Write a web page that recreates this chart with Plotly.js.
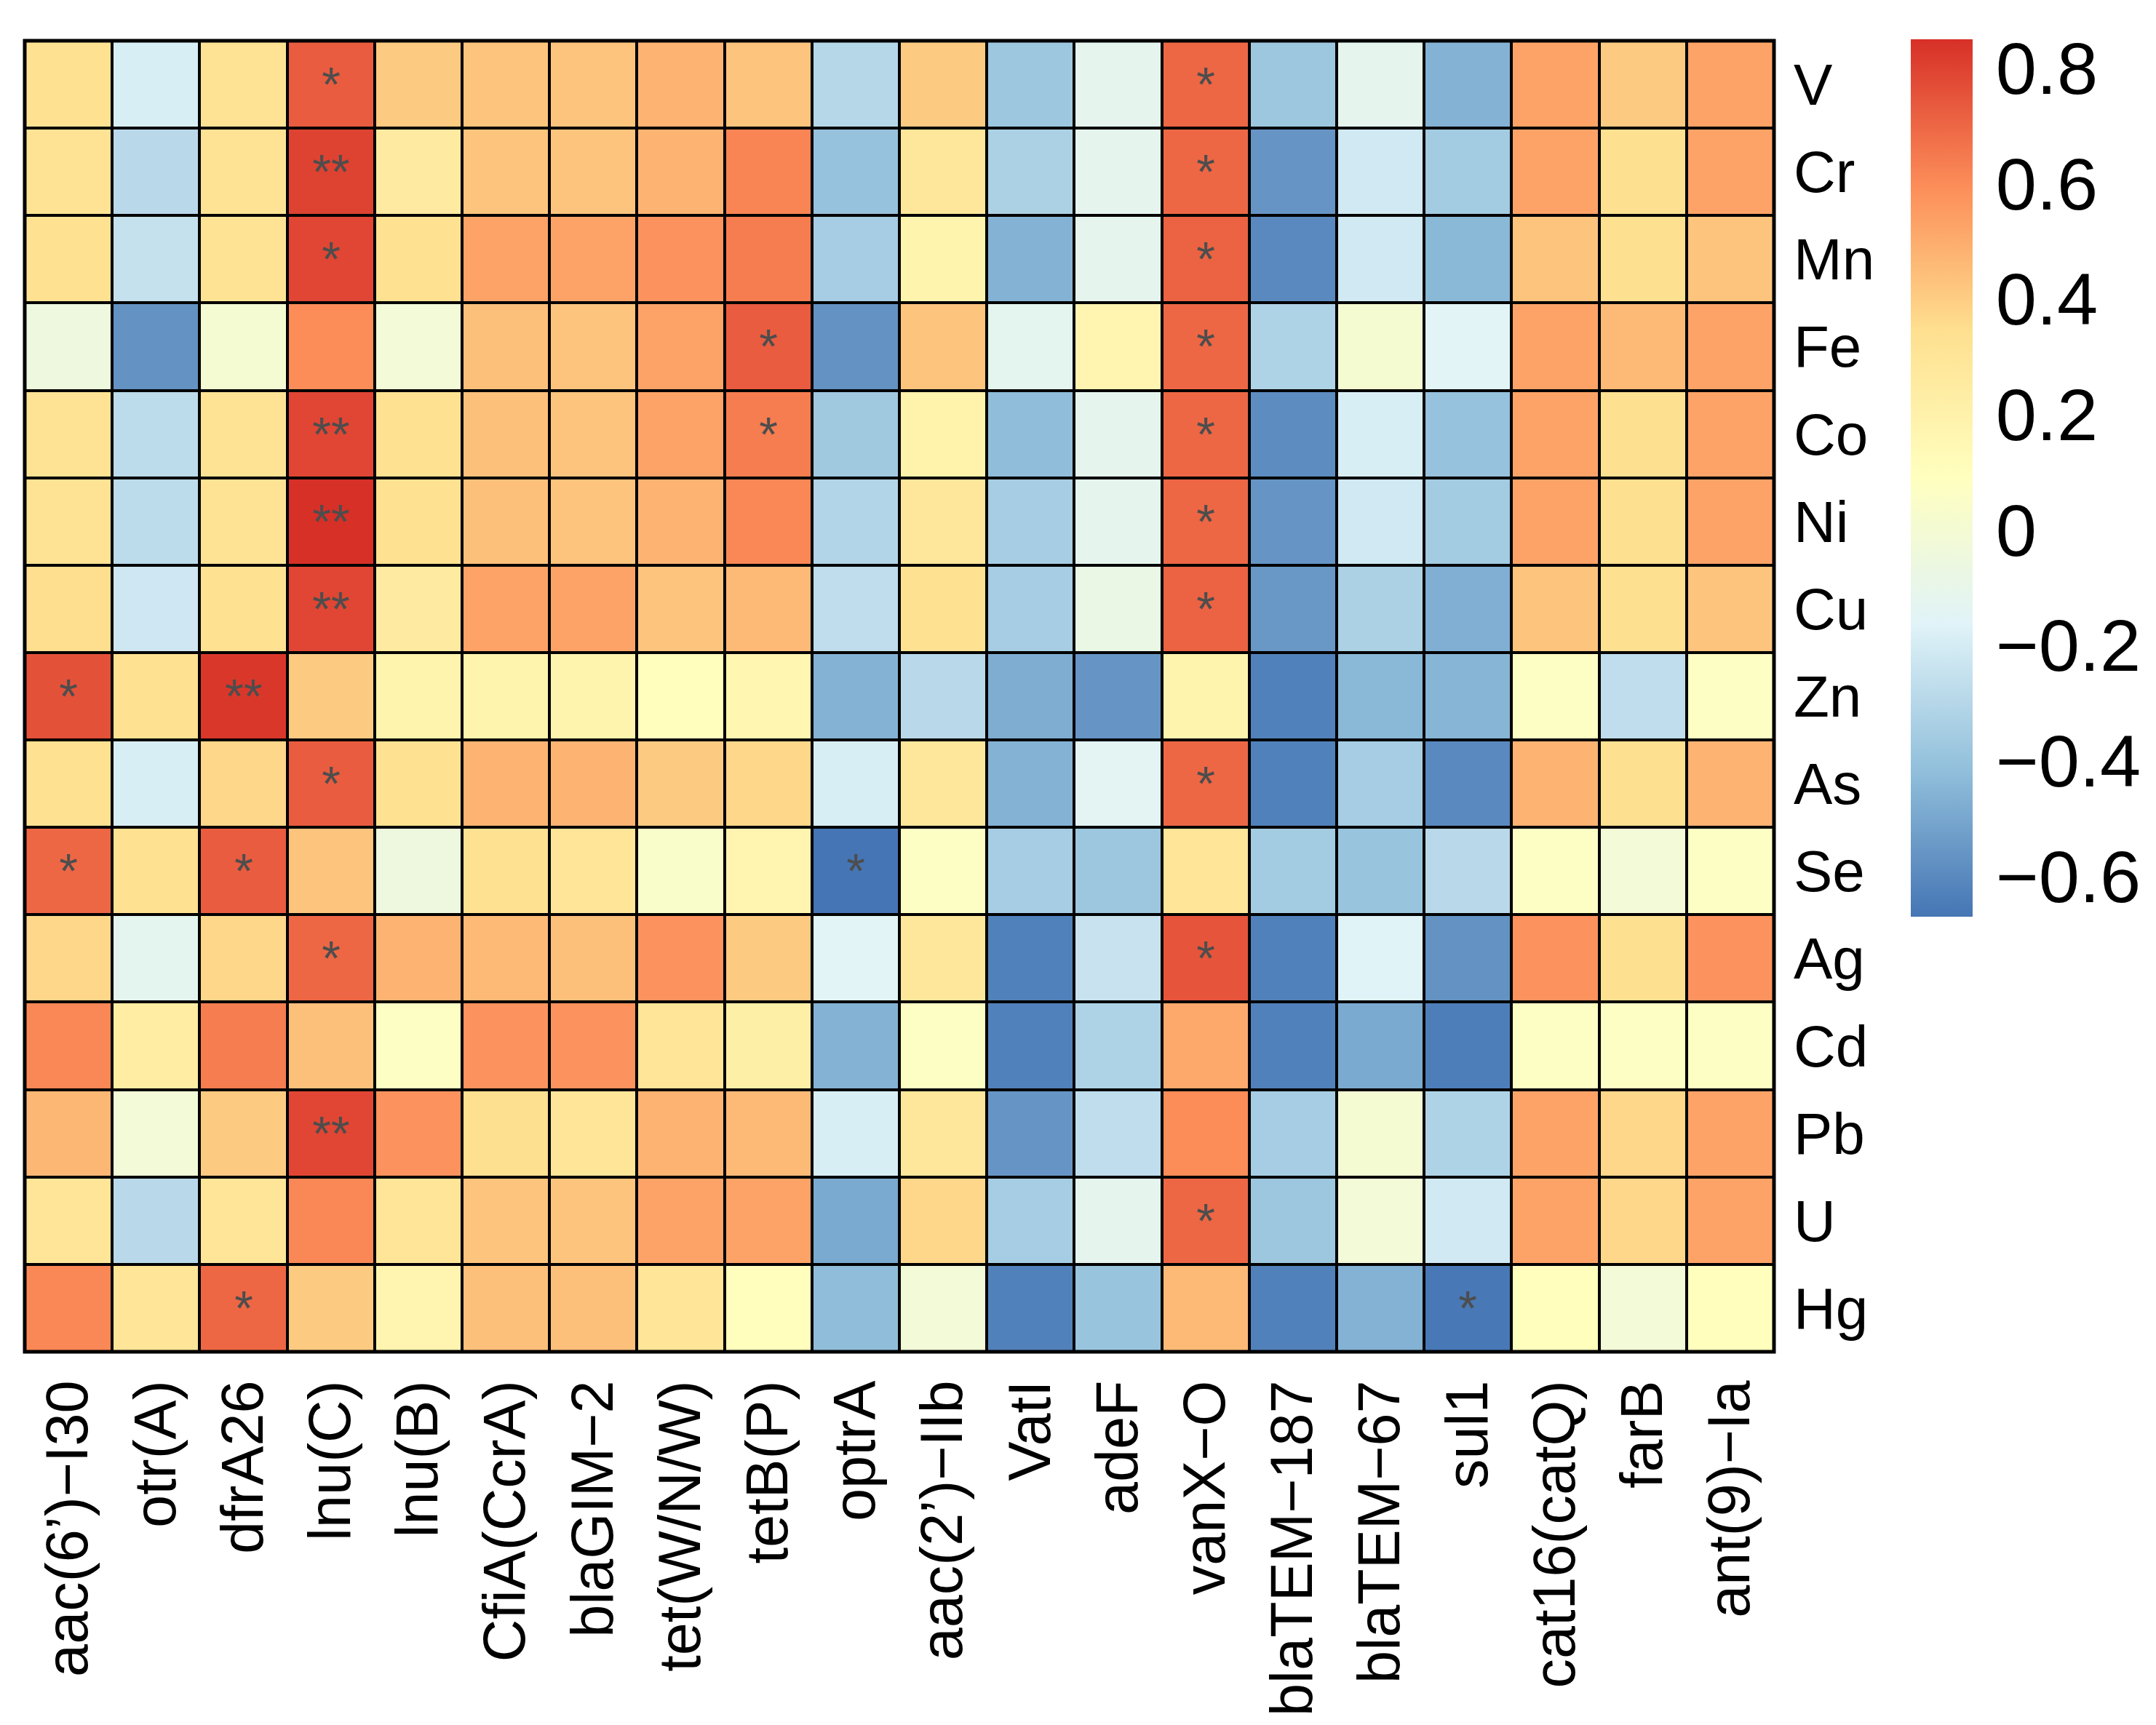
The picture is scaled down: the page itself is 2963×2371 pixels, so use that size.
<!DOCTYPE html>
<html>
<head>
<meta charset="utf-8">
<script src="https://cdn.plot.ly/plotly-3.0.1.min.js"></script>
<style>html,body{margin:0;padding:0;background:#fff;}#chart{width:2963px;height:2371px;}</style>
</head>
<body>
<div id="chart"></div>
<script>
const genes = ["aac(6\u2019)\u2212I30","otr(A)","dfrA26","lnu(C)","lnu(B)","CfiA(CcrA)","blaGIM\u22122","tet(W/N/W)","tetB(P)","optrA","aac(2\u2019)\u2212IIb","VatI","adeF","vanX\u2212O","blaTEM\u2212187","blaTEM\u221267","sul1","cat16(catQ)","farB","ant(9)\u2212Ia"];
const metals = ["V","Cr","Mn","Fe","Co","Ni","Cu","Zn","As","Se","Ag","Cd","Pb","U","Hg"];

const rowV  = [0.33,-0.19,0.32,0.73,0.41,0.43,0.43,0.48,0.43,-0.30,0.41,-0.38,-0.12,0.70,-0.38,-0.12,-0.46,0.53,0.41,0.53];
const rowCr = [0.32,-0.29,0.32,0.80,0.25,0.43,0.43,0.48,0.62,-0.40,0.29,-0.33,-0.12,0.70,-0.56,-0.21,-0.36,0.53,0.34,0.53];
const rowMn = [0.33,-0.25,0.32,0.79,0.33,0.53,0.53,0.58,0.64,-0.35,0.18,-0.46,-0.12,0.71,-0.60,-0.21,-0.44,0.43,0.34,0.43];
const rowFe = [-0.05,-0.57,0.00,0.60,-0.02,0.44,0.43,0.53,0.73,-0.57,0.43,-0.13,0.17,0.70,-0.32,0.01,-0.15,0.53,0.46,0.53];
const rowCo = [0.32,-0.28,0.32,0.79,0.33,0.44,0.43,0.53,0.64,-0.37,0.20,-0.42,-0.12,0.70,-0.59,-0.19,-0.40,0.53,0.34,0.53];
const rowNi = [0.32,-0.28,0.32,0.85,0.33,0.44,0.43,0.48,0.61,-0.31,0.29,-0.35,-0.12,0.70,-0.56,-0.21,-0.36,0.53,0.34,0.53];
const rowCu = [0.35,-0.22,0.33,0.79,0.25,0.53,0.53,0.43,0.46,-0.27,0.33,-0.35,-0.08,0.71,-0.55,-0.33,-0.47,0.43,0.34,0.43];
const rowZn = [0.76,0.33,0.83,0.41,0.18,0.18,0.18,0.10,0.16,-0.46,-0.29,-0.48,-0.56,0.18,-0.63,-0.44,-0.45,0.07,-0.27,0.07];
const rowAs = [0.33,-0.19,0.37,0.73,0.33,0.48,0.48,0.41,0.37,-0.19,0.29,-0.46,-0.14,0.70,-0.63,-0.35,-0.60,0.48,0.34,0.48];
const rowSe = [0.70,0.33,0.73,0.43,-0.05,0.33,0.30,0.04,0.17,-0.67,0.07,-0.35,-0.38,0.30,-0.36,-0.39,-0.29,0.07,-0.02,0.07];
const rowAg = [0.37,-0.13,0.37,0.70,0.48,0.46,0.44,0.58,0.41,-0.15,0.29,-0.63,-0.24,0.75,-0.63,-0.16,-0.57,0.58,0.34,0.58];
const rowCd = [0.61,0.24,0.64,0.44,0.07,0.58,0.58,0.30,0.22,-0.46,0.07,-0.63,-0.32,0.51,-0.63,-0.49,-0.64,0.07,0.07,0.07];
const rowPb = [0.47,-0.02,0.41,0.79,0.58,0.34,0.30,0.48,0.46,-0.19,0.29,-0.56,-0.27,0.60,-0.35,0.00,-0.32,0.53,0.37,0.53];
const rowU  = [0.30,-0.29,0.30,0.61,0.30,0.43,0.43,0.53,0.53,-0.49,0.37,-0.35,-0.12,0.70,-0.38,-0.02,-0.21,0.53,0.37,0.53];
const rowHg = [0.61,0.30,0.70,0.41,0.17,0.44,0.44,0.30,0.10,-0.42,-0.02,-0.63,-0.39,0.46,-0.63,-0.46,-0.66,0.10,-0.02,0.10];

// significance marks: [metal, gene index, mark]
const sigMarks = [
  ["V",3,"*"],["V",13,"*"],
  ["Cr",3,"**"],["Cr",13,"*"],
  ["Mn",3,"*"],["Mn",13,"*"],
  ["Fe",8,"*"],["Fe",13,"*"],
  ["Co",3,"**"],["Co",8,"*"],["Co",13,"*"],
  ["Ni",3,"**"],["Ni",13,"*"],
  ["Cu",3,"**"],["Cu",13,"*"],
  ["Zn",0,"*"],["Zn",2,"**"],
  ["As",3,"*"],["As",13,"*"],
  ["Se",0,"*"],["Se",2,"*"],["Se",9,"*"],
  ["Ag",3,"*"],["Ag",13,"*"],
  ["Pb",3,"**"],
  ["U",13,"*"],
  ["Hg",2,"*"],["Hg",16,"*"]
];

const cbTicks = [-0.6,-0.4,-0.2,0,0.2,0.4,0.6,0.8];
const cbTickText = ["\u22120.6","\u22120.4","\u22120.2","0","0.2","0.4","0.6","0.8"];

const z = [rowV,rowCr,rowMn,rowFe,rowCo,rowNi,rowCu,rowZn,rowAs,rowSe,rowAg,rowCd,rowPb,rowU,rowHg];
const text = metals.map(() => genes.map(() => ""));
sigMarks.forEach(([m, gi, s]) => { text[metals.indexOf(m)][gi] = s; });

const colorscale = [
  [0, "#4575B4"], [1/6, "#91BFDB"], [2/6, "#E0F3F8"], [3/6, "#FFFFBF"],
  [4/6, "#FEE090"], [5/6, "#FC8D59"], [1, "#D73027"]
];

const W = 2963, H = 2371;
const L = 34, R = 2438, T = 56, B = 1858;

const trace = {
  type: "heatmap",
  x: genes,
  y: metals,
  z: z,
  text: text,
  texttemplate: "%{text}",
  textfont: {family: "Liberation Sans, Arial, sans-serif", size: 66, color: "#4D4D4D"},
  colorscale: colorscale,
  zmin: -0.67,
  zmax: 0.85,
  xgap: 4,
  ygap: 4,
  hoverinfo: "skip",
  colorbar: {
    x: (2626 - L) / (R - L),
    xanchor: "left",
    xpad: 0,
    y: (B - 54) / (B - T),
    yanchor: "top",
    ypad: 0,
    len: 1206,
    lenmode: "pixels",
    thickness: 85,
    thicknessmode: "pixels",
    outlinewidth: 0,
    tickvals: cbTicks,
    ticktext: cbTickText,
    ticks: "outside",
    ticklen: 12,
    tickcolor: "rgba(0,0,0,0)",
    tickfont: {family: "Liberation Sans, Arial, sans-serif", size: 101, color: "#000"}
  }
};

const layout = {
  width: W,
  height: H,
  margin: {l: L, r: W - R, t: T, b: H - B, pad: 0},
  paper_bgcolor: "#ffffff",
  plot_bgcolor: "#000000",
  font: {family: "Liberation Sans, Arial, sans-serif", color: "#000"},
  xaxis: {
    type: "category",
    tickangle: -90,
    ticks: "outside",
    ticklen: 6,
    tickcolor: "rgba(0,0,0,0)",
    tickfont: {size: 81, color: "#000"},
    showgrid: false,
    zeroline: false,
    showline: false,
    fixedrange: true
  },
  yaxis: {
    type: "category",
    autorange: "reversed",
    side: "right",
    ticks: "outside",
    ticklen: 10,
    tickcolor: "rgba(0,0,0,0)",
    tickfont: {size: 80, color: "#000"},
    showgrid: false,
    zeroline: false,
    showline: false,
    fixedrange: true
  },
  shapes: [{
    type: "rect", xref: "paper", yref: "paper",
    x0: 0, x1: 1, y0: 0, y1: 1,
    line: {color: "#000", width: 5},
    fillcolor: "rgba(0,0,0,0)"
  }]
};

Plotly.newPlot("chart", [trace], layout, {displayModeBar: false, staticPlot: true});
</script>
</body>
</html>
